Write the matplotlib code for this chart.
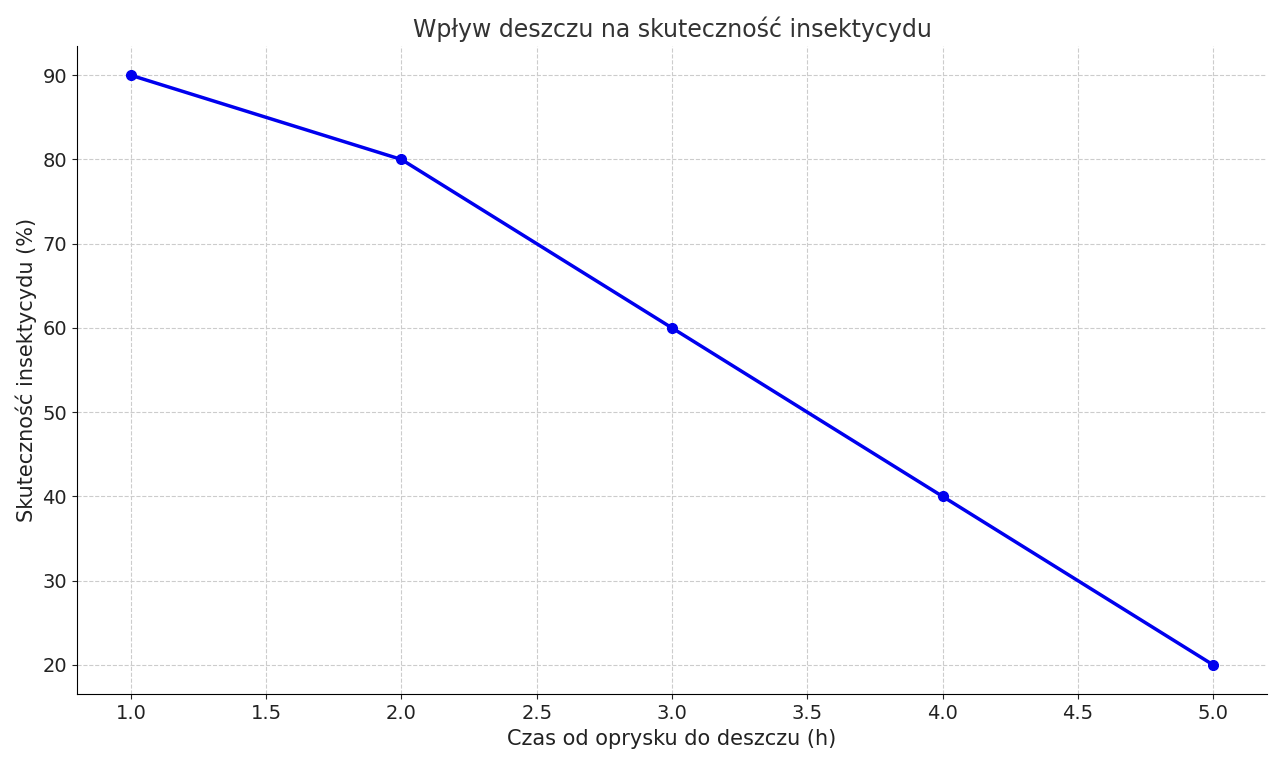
import matplotlib
matplotlib.use("Agg")
import matplotlib.pyplot as plt

hours = [1, 2, 3, 4, 5]
efficacy = [90, 80, 60, 40, 20]

plt.rcParams['font.family'] = ['DejaVu Sans']
fig, ax = plt.subplots(figsize=(12.8, 7.63), dpi=100)
ax.plot(hours, efficacy, marker='o', color='#0000ee', linewidth=2.5, markersize=7)
ax.set_title("Wpływ deszczu na skuteczność insektycydu", fontsize=17, color='#333333')
ax.set_xlabel("Czas od oprysku do deszczu (h)", fontsize=15, color='#222222')
ax.set_ylabel("Skuteczność insektycydu (%)", fontsize=15, color='#222222')
ax.tick_params(labelsize=14, colors='#222222')
ax.grid(True, linestyle='--', color='#cccccc', linewidth=0.8)
ax.spines['top'].set_visible(False)
ax.spines['right'].set_visible(False)
ax.set_xticks([1.0,1.5,2.0,2.5,3.0,3.5,4.0,4.5,5.0])
plt.subplots_adjust(left=0.06, right=0.99, top=0.94, bottom=0.09)
fig.savefig("out.png")
